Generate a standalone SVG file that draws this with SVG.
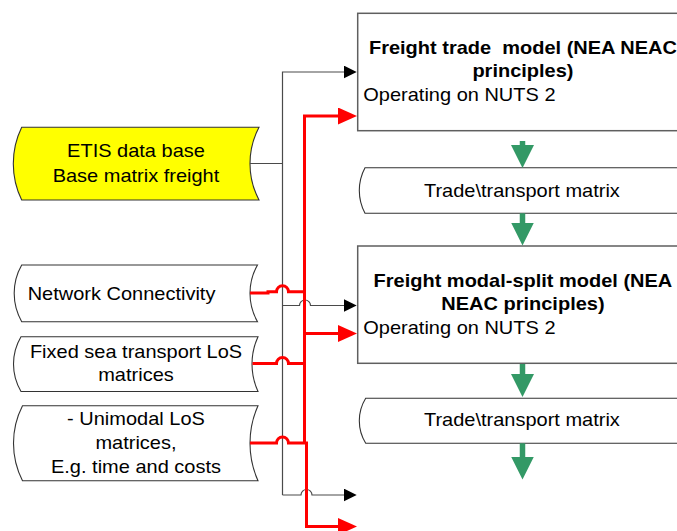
<svg xmlns="http://www.w3.org/2000/svg" width="677" height="531" viewBox="0 0 677 531">
  <style>
    text { font-family: "Liberation Sans", Arial, sans-serif; font-size: 18px; fill: #000; }
    .b { font-weight: bold; }
    .mid { text-anchor: middle; }
    .model { fill: #fff; stroke: #5f5f5f; stroke-width: 1.5; }
    .store { fill: #fff; stroke: #333; stroke-width: 1.1; }
    .etis { fill: #ffff00; stroke: #333; stroke-width: 1.1; }
    .blk { fill: none; stroke: #4a4a4a; stroke-width: 1.2; }
    .red { fill: none; stroke: #ff0000; stroke-width: 3; stroke-linejoin: miter; }
    .grn { fill: none; stroke: #339966; stroke-width: 5.5; }
  </style>
  <defs>
    <marker id="ahBlack" markerUnits="userSpaceOnUse" viewBox="0 0 13 13" markerWidth="13" markerHeight="13" refX="1" refY="6.5" orient="auto">
      <path d="M0,0 L13,6.5 L0,13 Z" fill="#000"/>
    </marker>
    <marker id="ahRed" markerUnits="userSpaceOnUse" viewBox="0 0 19 17" markerWidth="19" markerHeight="17" refX="1" refY="8.5" orient="auto">
      <path d="M0,0 L19,8.5 L0,17 Z" fill="#ff0000"/>
    </marker>
    <marker id="ahGreen" markerUnits="userSpaceOnUse" viewBox="0 0 23 23" markerWidth="23" markerHeight="23" refX="1" refY="11.5" orient="auto">
      <path d="M0,0 L23,11.5 L0,23 Z" fill="#339966"/>
    </marker>
  </defs>

  <!-- model boxes; labels use a slightly widened 18px face (x coords are pre-divided by 1.111) -->
  <g id="trade-model">
    <rect class="model" x="357.7" y="13.3" width="340" height="117.4"/>
    <g transform="scale(1.111,1)">
      <text class="b mid" x="470.7" y="54.5" xml:space="preserve">Freight trade  model (NEA NEAC</text>
      <text class="b mid" x="470.7" y="77.5">principles)</text>
      <text x="327" y="101.5">Operating on NUTS 2</text>
    </g>
  </g>

  <g id="modal-split-model">
    <rect class="model" x="357.7" y="246" width="340" height="117.3"/>
    <g transform="scale(1.111,1)">
      <text class="b mid" x="470.7" y="286.7">Freight modal-split model (NEA</text>
      <text class="b mid" x="470.7" y="310">NEAC principles)</text>
      <text x="327" y="334.5">Operating on NUTS 2</text>
    </g>
  </g>

  <!-- stored data shapes -->
  <g id="trade-matrix-1">
    <path class="store" d="M365,167.7 H700 V213.3 H365 A48.5,48.5 0 0 1 365,167.7 Z"/>
    <g transform="scale(1.111,1)">
      <text class="mid" x="469.8" y="196.7">Trade\transport matrix</text>
    </g>
  </g>

  <g id="trade-matrix-2">
    <path class="store" d="M365.7,398.3 H700 V443.3 H365.7 A42.8,42.8 0 0 1 365.7,398.3 Z"/>
    <g transform="scale(1.111,1)">
      <text class="mid" x="469.8" y="426">Trade\transport matrix</text>
    </g>
  </g>

  <g id="etis-database">
    <path class="etis" d="M21.7,127.3 H259 A77.9,77.9 0 0 0 259,200 H21.7 A82.9,82.9 0 0 1 21.7,127.3 Z"/>
    <g transform="scale(1.111,1)">
      <text class="mid" x="122.4" y="157">ETIS data base</text>
      <text class="mid" x="122.4" y="181.7">Base matrix freight</text>
    </g>
  </g>

  <g id="network-connectivity">
    <path class="store" d="M21.7,265 H257.5 A57.3,57.3 0 0 0 257.5,321.7 H21.7 A57.3,57.3 0 0 1 21.7,265 Z"/>
    <g transform="scale(1.111,1)">
      <text x="24.9" y="300">Network Connectivity</text>
    </g>
  </g>

  <g id="sea-los">
    <path class="store" d="M21,336.7 H258 A65.6,65.6 0 0 0 258,391.5 H21 A53.8,53.8 0 0 1 21,336.7 Z"/>
    <g transform="scale(1.111,1)">
      <text class="mid" x="122.4" y="358.5">Fixed sea transport LoS</text>
      <text class="mid" x="122.4" y="381.5">matrices</text>
    </g>
  </g>

  <g id="unimodal-los">
    <path class="store" d="M22.5,405.7 H258 A91.9,91.9 0 0 0 258,480.7 H22.5 A82.6,82.6 0 0 1 22.5,405.7 Z"/>
    <g transform="scale(1.111,1)">
      <text class="mid" x="122.4" y="425.5">- Unimodal LoS</text>
      <text class="mid" x="122.4" y="449.5">matrices,</text>
      <text class="mid" x="122.4" y="473">E.g. time and costs</text>
    </g>
  </g>

  <!-- connectors -->
  <g id="connectors">
    <!-- base matrix feed (thin black) -->
    <path class="blk" d="M250,163.5 H282.5"/>
    <path class="blk" d="M282.5,495 V72 H344.7" marker-end="url(#ahBlack)"/>
    <path class="blk" d="M282.5,305.5 H299.5 A5.5,5.5 0 0 1 310.5,305.5 H344.7" marker-end="url(#ahBlack)"/>
    <path class="blk" d="M282.5,495 H301 A5.5,5.5 0 0 1 312,495 H344.7" marker-end="url(#ahBlack)"/>

    <!-- level-of-service feed (thick red) -->
    <path class="red" d="M304.5,443 V116 H339" marker-end="url(#ahRed)"/>
    <path class="red" d="M304.5,333.5 H339" marker-end="url(#ahRed)"/>
    <path class="red" d="M306.5,443 V526.5 H339" marker-end="url(#ahRed)"/>
    <path class="red" d="M250,293 H268 V291.7 H276.5 A6,6 0 0 1 288.5,291.7 H306"/>
    <path class="red" d="M252.5,363.5 H276.5 A6,6 0 0 1 288.5,363.5 H306"/>
    <path class="red" d="M250,443 H276.5 A6,6 0 0 1 288.5,443 H308"/>

    <!-- model chain (green) -->
    <path class="grn" d="M522.5,141 V146" marker-end="url(#ahGreen)"/>
    <path class="grn" d="M522.5,213.3 V223.5" marker-end="url(#ahGreen)"/>
    <path class="grn" d="M522.5,364 V375" marker-end="url(#ahGreen)"/>
    <path class="grn" d="M522.5,443.3 V457.5" marker-end="url(#ahGreen)"/>
  </g>
</svg>
